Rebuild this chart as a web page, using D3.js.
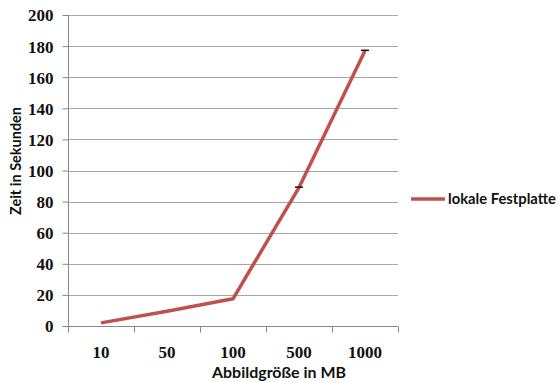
<!DOCTYPE html>
<html>
<head>
<meta charset="utf-8">
<script src="https://cdn.jsdelivr.net/npm/d3@7"></script>
<style>
  html, body { margin: 0; padding: 0; background: #fff; }
  svg { display: block; }
</style>
</head>
<body>
<svg id="chart" width="558" height="382"></svg>
<script>
// Image sizes (MB) and measured time (s) for the local disk
const categories = ["10", "50", "100", "500", "1000"];
const seriesName = "lokale Festplatte";
const seconds = [2, 9.5, 17.5, 89, 177];
const errors = [0, 0, 0, 0.3, 0.3];
const yTicks = [0, 20, 40, 60, 80, 100, 120, 140, 160, 180, 200];

const svg = d3.select("#chart");
const plot = { left: 68, right: 398, top: 15, bottom: 326 };

const x = d3.scaleBand().domain(categories).range([plot.left, plot.right]);
const y = d3.scaleLinear().domain([0, 200]).range([plot.bottom, plot.top]);

const grey = "#a6a6a6";
const axisGrey = "#888";
const serif = "'Liberation Serif', 'Times New Roman', serif";
const sans = "Lato, 'Open Sans', sans-serif";

// horizontal gridlines
svg.append("g")
  .selectAll("line")
  .data(yTicks.filter(d => d > 0))
  .join("line")
  .attr("x1", plot.left).attr("x2", plot.right)
  .attr("y1", d => Math.round(y(d)) + 0.5).attr("y2", d => Math.round(y(d)) + 0.5)
  .attr("stroke", grey).attr("stroke-width", 1.2);

// y axis
const yAxis = svg.append("g")
  .attr("transform", `translate(${plot.left + 0.5},0)`)
  .call(d3.axisLeft(y).tickValues(yTicks).tickSize(6).tickPadding(9).tickFormat(d3.format("d")))
  .attr("font-family", serif);
yAxis.select(".domain").attr("stroke", axisGrey).attr("d", `M-6,${plot.bottom + 0.5}H0V${plot.top}`);
yAxis.selectAll(".tick line").attr("stroke", axisGrey);
yAxis.selectAll(".tick text")
  .style("font-family", serif)
  .attr("font-weight", "bold")
  .attr("font-size", 17)
  .attr("fill", "#111")
  .attr("dy", "0.35em");

// x axis (ticks on category boundaries)
const xg = svg.append("g").attr("transform", `translate(0,${plot.bottom + 0.5})`);
xg.append("line")
  .attr("x1", plot.left).attr("x2", plot.right)
  .attr("stroke", axisGrey).attr("stroke-width", 1.2);
const bounds = categories.map(c => x(c)).concat([x(categories[categories.length - 1]) + x.bandwidth()]);
xg.selectAll("line.tk").data(bounds).join("line")
  .attr("class", "tk")
  .attr("x1", d => Math.round(d) + 0.5).attr("x2", d => Math.round(d) + 0.5)
  .attr("y1", 0).attr("y2", 6)
  .attr("stroke", axisGrey);
xg.selectAll("text").data(categories).join("text")
  .attr("x", d => x(d) + x.bandwidth() / 2)
  .attr("y", 31)
  .attr("text-anchor", "middle")
  .style("font-family", serif)
  .attr("font-weight", "bold")
  .attr("font-size", 17)
  .attr("fill", "#111")
  .text(d => d);

// data line
const cx = d => x(d) + x.bandwidth() / 2;
svg.append("path")
  .datum(categories.map((c, i) => [c, seconds[i]]))
  .attr("fill", "none")
  .attr("stroke", "#c0504d")
  .attr("stroke-width", 3.5)
  .attr("stroke-linejoin", "round")
  .attr("d", d3.line().x(d => cx(d[0])).y(d => y(d[1])));

// error bar caps
svg.append("g").selectAll("line")
  .data(categories.map((c, i) => ({ c, v: seconds[i], e: errors[i] })).filter(d => d.e > 0))
  .join("line")
  .attr("x1", d => cx(d.c) - 4).attr("x2", d => cx(d.c) + 4)
  .attr("y1", d => y(d.v + d.e)).attr("y2", d => y(d.v + d.e))
  .attr("stroke", "#111").attr("stroke-width", 1.5);

// axis titles (condensed to the width of the original typeface)
svg.append("text")
  .attr("transform", "translate(21,161) rotate(-90)")
  .attr("text-anchor", "middle")
  .style("font-family", sans)
  .attr("font-weight", "bold")
  .attr("font-size", 16)
  .attr("textLength", 108)
  .attr("lengthAdjust", "spacingAndGlyphs")
  .attr("fill", "#111")
  .text("Zeit in Sekunden");

svg.append("text")
  .attr("x", 279).attr("y", 378)
  .attr("text-anchor", "middle")
  .style("font-family", sans)
  .attr("font-weight", "bold")
  .attr("font-size", 16)
  .attr("textLength", 134)
  .attr("lengthAdjust", "spacingAndGlyphs")
  .attr("fill", "#111")
  .text("Abbildgröße in MB");

// legend
const lg = svg.append("g").attr("transform", "translate(411,199)");
lg.append("line").attr("x1", 0).attr("x2", 34).attr("y1", 0).attr("y2", 0)
  .attr("stroke", "#c0504d").attr("stroke-width", 3.5);
lg.append("text")
  .attr("x", 37).attr("y", 5)
  .style("font-family", sans)
  .attr("font-weight", "bold")
  .attr("font-size", 15)
  .attr("textLength", 108)
  .attr("lengthAdjust", "spacingAndGlyphs")
  .attr("fill", "#111")
  .text(seriesName);
</script>
</body>
</html>
